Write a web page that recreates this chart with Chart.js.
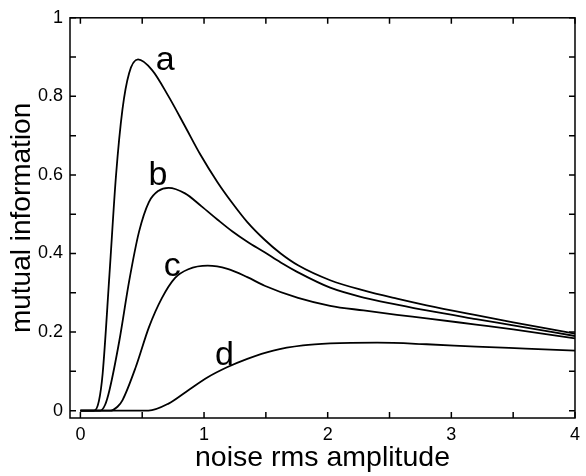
<!DOCTYPE html>
<html>
<head>
<meta charset="utf-8">
<script src="https://cdn.jsdelivr.net/npm/chart.js@4/dist/chart.umd.min.js"></script>
<style>
  html, body { margin: 0; padding: 0; background: #fff; }
  canvas { display: block; }
</style>
</head>
<body>
<canvas id="chart" width="586" height="476"></canvas>
<script>
// curve a
const aX = [0, 0.11, 0.15, 0.18, 0.235, 0.288, 0.34, 0.394, 0.466, 0.58, 0.713, 0.846, 0.97, 1.11, 1.23, 1.35, 1.49, 1.62, 1.76, 2.02, 2.29, 2.56, 2.8, 3.2, 3.5, 4];
const aY = [0, 0, 0.025, 0.094, 0.346, 0.598, 0.766, 0.859, 0.894, 0.867, 0.80, 0.724, 0.652, 0.581, 0.528, 0.48, 0.435, 0.40, 0.37, 0.332, 0.306, 0.285, 0.268, 0.243, 0.225, 0.196];
// curve b
const bX = [0, 0.16, 0.2, 0.235, 0.315, 0.394, 0.474, 0.554, 0.633, 0.713, 0.846, 0.98, 1.11, 1.23, 1.35, 1.49, 1.62, 1.76, 2.02, 2.29, 2.56, 2.8, 3.2, 3.5, 4];
const bY = [0, 0, 0.015, 0.052, 0.178, 0.329, 0.455, 0.531, 0.56, 0.567, 0.553, 0.52, 0.486, 0.456, 0.43, 0.403, 0.377, 0.352, 0.313, 0.288, 0.27, 0.255, 0.233, 0.217, 0.19];
// curve c
const cX = [0, 0.24, 0.3, 0.341, 0.448, 0.554, 0.66, 0.766, 0.873, 1.03, 1.19, 1.35, 1.49, 1.76, 2.02, 2.29, 2.56, 2.8, 3.2, 3.5, 4];
const cY = [0, 0, 0.01, 0.027, 0.111, 0.212, 0.287, 0.338, 0.36, 0.369, 0.361, 0.34, 0.318, 0.287, 0.267, 0.255, 0.244, 0.235, 0.219, 0.207, 0.184];
// curve d
const dX = [0, 0.55, 0.713, 0.873, 1.03, 1.19, 1.35, 1.56, 1.8, 2.02, 2.4, 2.8, 3.2, 3.6, 4];
const dY = [0, 0, 0.018, 0.052, 0.085, 0.111, 0.132, 0.153, 0.166, 0.171, 0.173, 0.169, 0.163, 0.158, 0.153];

const xTickValues = [0, 1, 2, 3, 4];
const xTickLabels = ['0', '1', '2', '3', '4'];
const yTickValues = [0, 0.2, 0.4, 0.6, 0.8, 1];
const yTickLabels = ['0', '0.2', '0.4', '0.6', '0.8', '1'];

const curveNames = ['a', 'b', 'c', 'd'];
const nameX = [0.685, 0.628, 0.743, 1.165];
const nameY = [0.866, 0.574, 0.342, 0.115];

const FONT = '"Liberation Sans", Arial, Helvetica, sans-serif';
Chart.defaults.font.family = FONT;
Chart.defaults.color = '#000';

const toPoints = (xs, ys) => xs.map((x, i) => ({x: x, y: ys[i]}));

const makeSet = (xs, ys) => ({
    data: toPoints(xs, ys),
    borderColor: '#000',
    borderWidth: 1.8,
    pointRadius: 0,
    fill: false,
    cubicInterpolationMode: 'monotone'
});

const pickLabel = (values, labels) => (v) => {
    const i = values.findIndex(t => Math.abs(t - v) < 1e-6);
    return i >= 0 ? labels[i] : '';
};

// box, inward ticks on all four sides, and the curve names
const frame = {
    id: 'frame',
    afterDatasetsDraw(chart) {
        const {ctx, chartArea, scales} = chart;
        const {left, right, top, bottom} = chartArea;
        const tick = 6;
        ctx.save();
        ctx.strokeStyle = '#000';
        ctx.lineWidth = 1.5;
        ctx.strokeRect(left, top, right - left, bottom - top);
        ctx.beginPath();
        scales.x.ticks.forEach(t => {
            const px = scales.x.getPixelForValue(t.value);
            ctx.moveTo(px, bottom); ctx.lineTo(px, bottom - tick);
            ctx.moveTo(px, top); ctx.lineTo(px, top + tick);
        });
        scales.y.ticks.forEach(t => {
            const py = scales.y.getPixelForValue(t.value);
            ctx.moveTo(left, py); ctx.lineTo(left + tick, py);
            ctx.moveTo(right, py); ctx.lineTo(right - tick, py);
        });
        ctx.stroke();

        ctx.fillStyle = '#000';
        ctx.font = '34px ' + FONT;
        ctx.textAlign = 'center';
        ctx.textBaseline = 'alphabetic';
        curveNames.forEach((n, i) => {
            ctx.fillText(n, scales.x.getPixelForValue(nameX[i]), scales.y.getPixelForValue(nameY[i]));
        });
        ctx.restore();
    }
};

new Chart(document.getElementById('chart').getContext('2d'), {
    type: 'line',
    data: {
        datasets: [makeSet(aX, aY), makeSet(bX, bY), makeSet(cX, cY), makeSet(dX, dY)]
    },
    options: {
        responsive: false,
        animation: false,
        devicePixelRatio: 1,
        layout: {padding: {top: 14, right: 6, left: 0, bottom: 0}},
        plugins: {legend: {display: false}, tooltip: {enabled: false}},
        scales: {
            x: {
                type: 'linear',
                min: -0.084,
                max: 4,
                grid: {display: false, drawTicks: false},
                border: {display: false},
                ticks: {
                    stepSize: 0.5,
                    includeBounds: false,
                    autoSkip: false,
                    maxRotation: 0,
                    padding: 6,
                    font: {size: 18},
                    callback: pickLabel(xTickValues, xTickLabels)
                },
                title: {
                    display: true,
                    text: 'noise rms amplitude',
                    font: {size: 28.5},
                    padding: {top: 0, bottom: 1}
                },
                afterFit: s => { s.height = 58; }
            },
            y: {
                type: 'linear',
                min: -0.0187,
                max: 1,
                grid: {display: false, drawTicks: false},
                border: {display: false},
                ticks: {
                    stepSize: 0.1,
                    includeBounds: false,
                    autoSkip: false,
                    padding: 7,
                    font: {size: 18},
                    callback: pickLabel(yTickValues, yTickLabels)
                },
                title: {
                    display: true,
                    text: 'mutual information',
                    font: {size: 28},
                    padding: {top: 5, bottom: 0}
                },
                afterFit: s => { s.width = 70; }
            }
        }
    },
    plugins: [frame]
});
</script>
</body>
</html>
